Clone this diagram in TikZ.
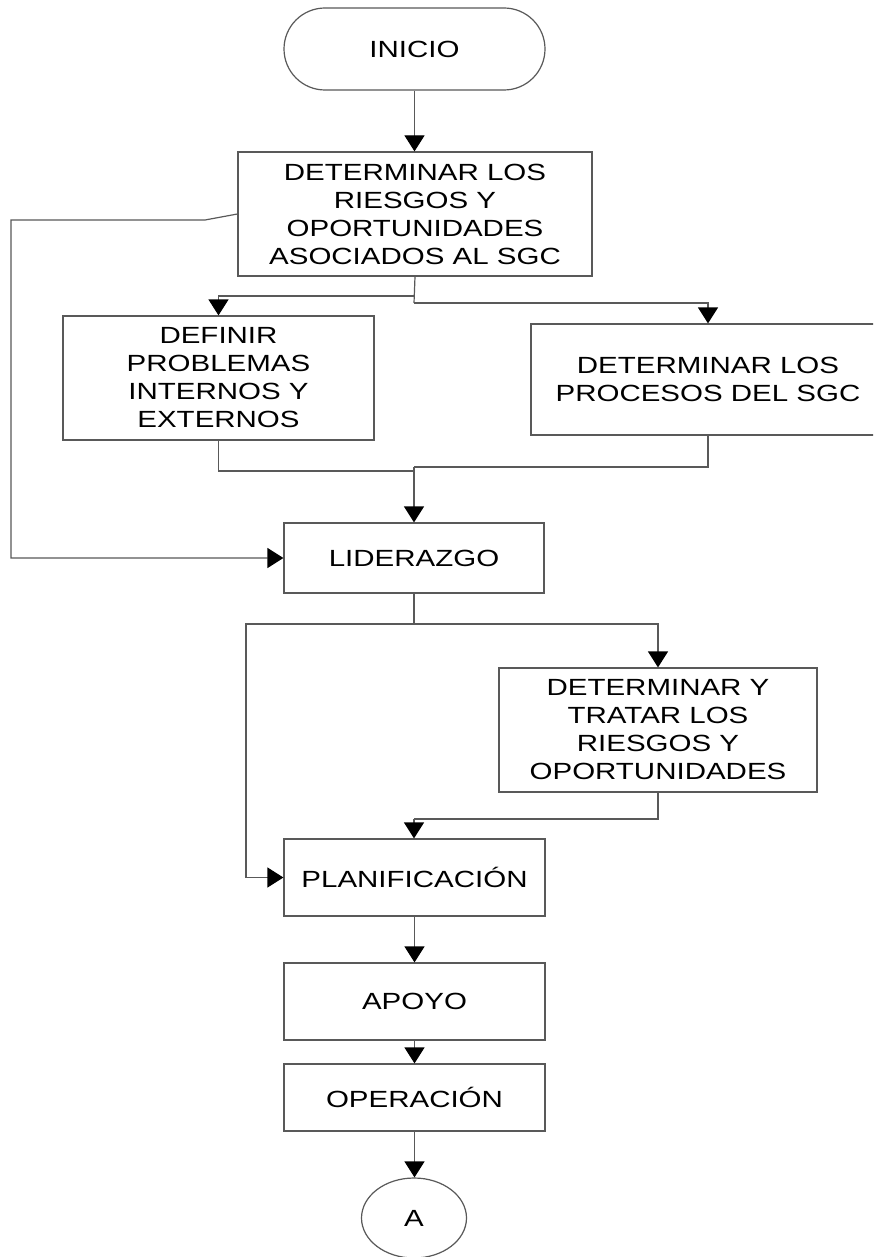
\documentclass[tikz,border=0pt]{standalone}
\usepackage{fontspec}
\setmainfont{Liberation Sans}[FakeStretch=1.26]
\usetikzlibrary{arrows.meta,shapes.misc,shapes.geometric}
\begin{document}
\begin{tikzpicture}[x=0.5pt,y=-0.5pt,
  line/.style={draw=black!65, line width=0.6pt},
  arr/.style={line, -{Triangle[width=10pt,length=8pt,color=black,fill=black]}},
  txt/.style={align=center, inner sep=0pt, font=\fontsize{11.7}{14}\selectfont},
  box/.style={line, rectangle, txt},
  term/.style={line, rounded rectangle, txt},
  conn/.style={line, ellipse, txt},
]
\clip (0,0) rectangle (873,1257);
\fill[white] (0,0) rectangle (873,1257);

\node[term, minimum width=130.5pt, minimum height=41pt] (inicio) at (414.5,49) {INICIO};
\node[box, minimum width=177pt, minimum height=62pt] (det) at (415,214) {DETERMINAR LOS\\RIESGOS Y\\OPORTUNIDADES\\ASOCIADOS AL SGC};
\node[box, minimum width=155.5pt, minimum height=62pt] (def) at (218.5,378) {DEFINIR\\PROBLEMAS\\INTERNOS Y\\EXTERNOS};
\node[box, minimum width=177pt, minimum height=55.5pt] (proc) at (708,379.5) {DETERMINAR LOS\\PROCESOS DEL SGC};
\node[box, minimum width=130pt, minimum height=35pt] (lid) at (414,558) {LIDERAZGO};
\node[box, minimum width=159pt, minimum height=62pt] (dtr) at (658,730) {DETERMINAR Y\\TRATAR LOS\\RIESGOS Y\\OPORTUNIDADES};
\node[box, minimum width=130.5pt, minimum height=38.5pt] (plan) at (414.5,877.5) {PLANIFICACIÓN};
\node[box, minimum width=130.5pt, minimum height=38.5pt] (apoyo) at (414.5,1001.5) {APOYO};
\node[box, minimum width=130.5pt, minimum height=33.5pt] (oper) at (414.5,1097.5) {OPERACIÓN};
\node[conn, minimum width=52.5pt, minimum height=40pt] (a) at (414,1218) {A};

\coordinate (s1) at (414,296);
\coordinate (s2) at (414,303);
\coordinate (k1) at (205,220);
\coordinate (k2) at (11,220);
\coordinate (m1) at (414,471);
\coordinate (m2) at (414,467);
\coordinate (b1) at (414,624);
\coordinate (b2) at (246,624);
\coordinate (c1) at (414,819);

\draw[arr] (inicio.south) -- (inicio.south |- det.north);
\draw[line] (det.south) -- (s2);
\draw[arr] (s1) -| (def.north);
\draw[arr] (s2) -| (proc.north);
\draw[arr] (det.west) -- (k1) -- (k2) |- (lid.west);
\draw[line] (def.south) |- (m1);
\draw[line] (proc.south) |- (m2);
\draw[arr] (m2) -- (m2 |- lid.north);
\draw[line] (lid.south) -- (b1);
\draw[arr] (b1) -| (dtr.north);
\draw[arr] (b1) -- (b2) |- (plan.west);
\draw[line] (dtr.south) |- (c1);
\draw[arr] (c1) -- (c1 |- plan.north);
\draw[arr] (plan.south) -- (apoyo.north);
\draw[arr] (apoyo.south) -- (oper.north);
\draw[arr] (oper.south) -- (oper.south |- a.north);
\end{tikzpicture}
\end{document}
